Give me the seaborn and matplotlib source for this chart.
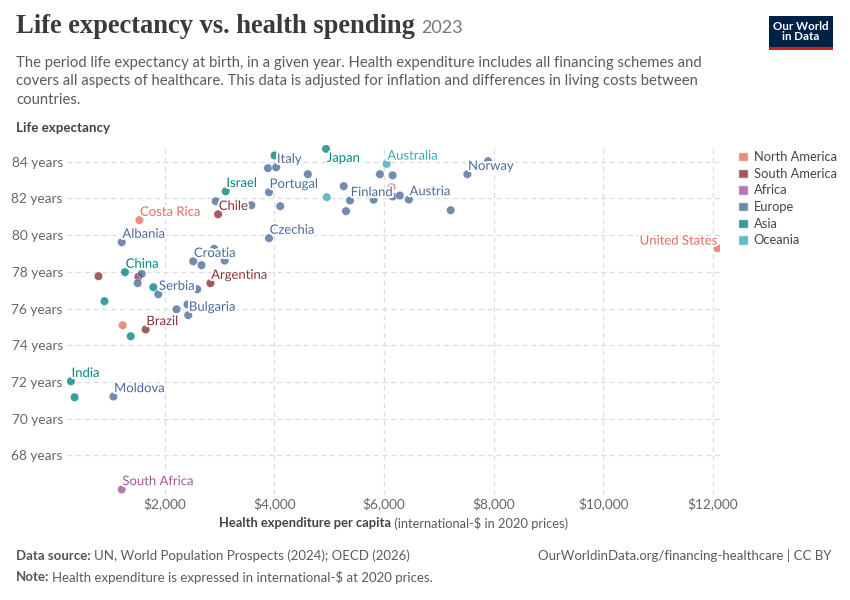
import matplotlib
matplotlib.use("Agg")
import matplotlib.pyplot as plt
import matplotlib.patheffects as pe
from matplotlib.patches import Patch, Rectangle
import pandas as pd
import seaborn as sns

# data (2023)
countries = ['South Korea', 'Spain', 'Italy', 'Malta', 'Israel', 'Portugal', 'Greece', 'Chile',
             'Slovenia', 'Cyprus', 'Costa Rica', 'Albania', 'Czechia', 'Estonia', 'Croatia',
             'Poland', 'Slovakia', 'China', 'Peru', 'Colombia', 'Montenegro', 'North Macedonia',
             'Turkey', 'Serbia', 'Hungary', 'Argentina', 'Sri Lanka', 'Romania', 'Lithuania',
             'Bulgaria', 'Mexico', 'Brazil', 'Armenia', 'India', 'Pakistan', 'Moldova',
             'South Africa', 'Japan', 'Australia', 'France', 'Sweden', 'Switzerland', 'Norway',
             'Ireland', 'New Zealand', 'Finland', 'United Kingdom', 'Belgium', 'Canada',
             'Netherlands', 'Denmark', 'Austria', 'Germany', 'United States']
regions = ['Asia', 'Europe', 'Europe', 'Europe', 'Asia', 'Europe', 'Europe', 'South America',
           'Europe', 'Europe', 'North America', 'Europe', 'Europe', 'Europe', 'Europe',
           'Europe', 'Europe', 'Asia', 'South America', 'South America', 'Europe', 'Europe',
           'Asia', 'Europe', 'Europe', 'South America', 'Asia', 'Europe', 'Europe',
           'Europe', 'North America', 'South America', 'Asia', 'Asia', 'Asia', 'Europe',
           'Africa', 'Asia', 'Oceania', 'Europe', 'Europe', 'Europe', 'Europe',
           'Europe', 'Oceania', 'Europe', 'Europe', 'Europe', 'North America',
           'Europe', 'Europe', 'Europe', 'Europe', 'North America']
spending = [4005, 3885, 4036, 4613, 3115, 3904, 2933, 2976,
            3582, 4109, 1540, 1218, 3904, 2904, 2522,
            2673, 3096, 1278, 795, 1522, 1582, 1509,
            1795, 1885, 2595, 2836, 904, 2218, 2418,
            2431, 1236, 1655, 1382, 291, 358, 1067,
            1218, 4945, 6049, 5927, 6158, 7900, 7522,
            5267, 4958, 5382, 5309, 5813, 6140,
            6158, 6291, 6455, 7218, 12085]
life_exp = [84.33, 83.64, 83.69, 83.31, 82.38, 82.33, 81.84, 81.13,
            81.62, 81.57, 80.81, 79.61, 79.83, 79.25, 78.57,
            78.36, 78.61, 77.98, 77.76, 77.73, 77.89, 77.38,
            77.16, 76.78, 77.05, 77.38, 76.40, 75.96, 76.22,
            75.64, 75.09, 74.86, 74.49, 72.04, 71.17, 71.21,
            66.15, 84.69, 83.87, 83.31, 83.25, 84.02, 83.31,
            82.66, 82.06, 81.88, 81.30, 81.92, 82.60,
            82.10, 82.15, 81.93, 81.35, 79.28]
labelled = ['Italy', 'Japan', 'Australia', 'Norway', 'Israel', 'Portugal', 'Chile', 'Costa Rica',
            'Finland', 'Austria', 'Albania', 'Czechia', 'Croatia', 'China', 'Argentina', 'Serbia',
            'Bulgaria', 'Brazil', 'India', 'Moldova', 'South Africa', 'United States']

region_order = ['North America', 'South America', 'Africa', 'Europe', 'Asia', 'Oceania']
region_colors = {'North America': '#E56E5A', 'South America': '#883039', 'Africa': '#A2559C',
                 'Europe': '#4C6A9C', 'Asia': '#00847E', 'Oceania': '#38AABA'}

x_ticks = [2000, 4000, 6000, 8000, 10000, 12000]
y_ticks = [68, 70, 72, 74, 76, 78, 80, 82, 84]

df = pd.DataFrame({'country': countries, 'region': regions,
                   'spending': spending, 'life_exp': life_exp})

sns.set_theme(style="white")
plt.rcParams['font.family'] = ['Lato', 'DejaVu Sans']

W, H = 850, 600
fig = plt.figure(figsize=(8.5, 6), dpi=100)
ax = fig.add_axes([67 / W, 1 - 495 / H, (720 - 67) / W, (495 - 145) / H])

sns.scatterplot(data=df, x='spending', y='life_exp', hue='region', hue_order=region_order,
                palette=region_colors, s=38, alpha=0.78, edgecolor='white', linewidth=0.4,
                legend=False, ax=ax, zorder=3)

ax.set_xlim(220, 12130)
ax.set_ylim(65.85, 84.9)
ax.set_xticks(x_ticks)
ax.set_xticklabels([f'${v:,}' for v in x_ticks])
ax.set_yticks(y_ticks)
ax.set_yticklabels([f'{v} years' for v in y_ticks])
ax.tick_params(axis='both', length=0, labelsize=9.8, labelcolor='#666666')
ax.tick_params(axis='x', pad=1.5)
ax.tick_params(axis='y', pad=3)
ax.set_xlabel('')
ax.set_ylabel('')
for s in ax.spines.values():
    s.set_visible(False)
ax.grid(True, linestyle=(0, (4, 3)), color='#dddddd', linewidth=0.9)
ax.set_axisbelow(True)

halo = [pe.withStroke(linewidth=3, foreground='white')]
special = {'Japan': (0.5, -6.5, 'left'), 'United States': (0, 5.5, 'right')}
for _, row in df[df['country'].isin(labelled)].iterrows():
    dx, dy, ha = special.get(row['country'], (0.5, 6.0, 'left'))
    ax.annotate(row['country'], (row['spending'], row['life_exp']), xytext=(dx, dy),
                textcoords='offset points', ha=ha, va='center', fontsize=9.4,
                color=region_colors[row['region']], path_effects=halo, zorder=4)

# legend
handles = [Patch(facecolor=region_colors[r], alpha=0.8, label=r) for r in region_order]
fig.legend(handles=handles, loc='upper left', bbox_to_anchor=(733 / W, 1 - 146 / H),
           frameon=False, fontsize=9.3, handlelength=0.75, handleheight=0.75,
           handletextpad=0.45, labelspacing=0.36, labelcolor='#444444', borderaxespad=0)

# header
fig.canvas.draw()
r = fig.canvas.get_renderer()
t = fig.text(16 / W, 1 - 33 / H, 'Life expectancy vs. health spending', fontsize=19.1,
             family=['Liberation Serif'], weight='bold', color='#3a3a3a', va='baseline')
bb = t.get_window_extent(r)
fig.text((bb.x1 + 6) / W, 1 - 33 / H, '2023', fontsize=13, color='#777777', va='baseline')
fig.text(16 / W, 1 - 55.5 / H,
         'The period life expectancy at birth, in a given year. Health expenditure includes all financing schemes and\n'
         'covers all aspects of healthcare. This data is adjusted for inflation and differences in living costs between\n'
         'countries.', fontsize=10.75, color='#5b5b5b', va='top', linespacing=1.42)
fig.text(16 / W, 1 - 128 / H, 'Life expectancy', fontsize=9.6, color='#444444',
         weight='bold', va='center')

# x axis title
xl1 = fig.text(0, 1 - 523 / H, 'Health expenditure per capita', fontsize=9.3,
               color='#444444', weight='bold', va='center')
xl2 = fig.text(0, 1 - 523 / H, ' (international-$ in 2020 prices)', fontsize=9.3,
               color='#5b5b5b', va='center')
w1 = xl1.get_window_extent(r).width
w2 = xl2.get_window_extent(r).width
x0 = 394 - (w1 + w2) / 2
xl1.set_x(x0 / W)
xl2.set_x((x0 + w1) / W)

# footer
f1 = fig.text(16 / W, 1 - 556 / H, 'Data source:', fontsize=9.5, color='#555555',
              weight='bold', va='center')
fig.text((16 + f1.get_window_extent(r).width + 3) / W, 1 - 556 / H,
         'UN, World Population Prospects (2024); OECD (2026)', fontsize=9.5,
         color='#5b5b5b', va='center')
f2 = fig.text(16 / W, 1 - 577 / H, 'Note:', fontsize=9.5, color='#555555',
              weight='bold', va='center')
fig.text((16 + f2.get_window_extent(r).width + 3) / W, 1 - 577 / H,
         'Health expenditure is expressed in international-$ at 2020 prices.', fontsize=9.5,
         color='#5b5b5b', va='center')
fig.text(832 / W, 1 - 556 / H, 'OurWorldinData.org/financing-healthcare | CC BY',
         fontsize=9.5, color='#5b5b5b', va='center', ha='right')

# logo
fig.patches.append(Rectangle((769 / W, 1 - 50 / H), 64 / W, 34 / H, transform=fig.transFigure,
                             facecolor='#002147', edgecolor='none'))
fig.patches.append(Rectangle((769 / W, 1 - 50 / H), 64 / W, 3 / H, transform=fig.transFigure,
                             facecolor='#CE261E', edgecolor='none'))
fig.text(801 / W, 1 - 31.5 / H, 'Our World\nin Data', fontsize=8.3, color='white',
         weight='bold', ha='center', va='center', linespacing=1.0)

fig.savefig('out.png', dpi=100)
